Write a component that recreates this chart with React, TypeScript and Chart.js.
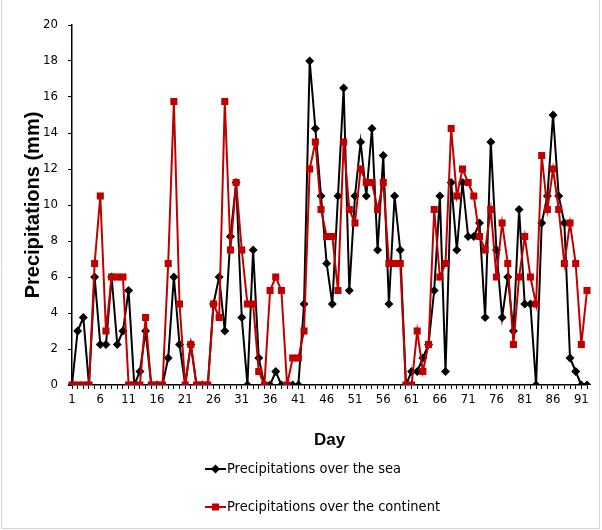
import React, { useEffect, useRef } from 'react';
import { Chart, registerables } from 'chart.js';

Chart.register(...registerables);

const days: string[] = Array.from({ length: 92 }, (_, i) => String(i + 1));

const seaValues: number[] = [
  0, 3, 3.75, 0, 6, 2.25, 2.25, 6, 2.25, 3,
  5.25, 0, 0.75, 3, 0, 0, 0, 1.5, 6, 2.25,
  0, 2.25, 0, 0, 0, 4.5, 6, 3, 8.25, 11.25,
  3.75, 0, 7.5, 1.5, 0, 0, 0.75, 0, 0, 0,
  0, 4.5, 18, 14.25, 10.5, 6.75, 4.5, 10.5, 16.5, 5.25,
  10.5, 13.5, 10.5, 14.25, 7.5, 12.75, 4.5, 10.5, 7.5, 0,
  0.75, 0.75, 1.5, 2.25, 5.25, 10.5, 0.75, 11.25, 7.5, 11.25,
  8.25, 8.25, 9, 3.75, 13.5, 7.5, 3.75, 6, 3, 9.75,
  4.5, 4.5, 0, 9, 10.5, 15, 10.5, 9, 1.5, 0.75,
  0, 0,
];

const continentValues: number[] = [
  0, 0, 0, 0, 6.75, 10.5, 3, 6, 6, 6,
  0, 0, 0, 3.75, 0, 0, 0, 6.75, 15.75, 4.5,
  0, 2.25, 0, 0, 0, 4.5, 3.75, 15.75, 7.5, 11.25,
  7.5, 4.5, 4.5, 0.75, 0, 5.25, 6, 5.25, 0, 1.5,
  1.5, 3, 12, 13.5, 9.75, 8.25, 8.25, 5.25, 13.5, 9.75,
  9, 12, 11.25, 11.25, 9.75, 11.25, 6.75, 6.75, 6.75, 0,
  0, 3, 0.75, 2.25, 9.75, 6, 6.75, 14.25, 10.5, 12,
  11.25, 10.5, 8.25, 7.5, 9.75, 6, 9, 6.75, 2.25, 6,
  8.25, 6, 4.5, 12.75, 9.75, 12, 9.75, 6.75, 9, 6.75,
  2.25, 5.25,
];

const seriesNames: string[] = ['Precipitations over the sea', 'Precipitations over the continent'];
const seriesColors: string[] = ['#000000', '#C00000'];
const yAxisTitle = 'Precipitations (mm)';
const xAxisTitle = 'Day';

const NARROW = '"DejaVu Sans Condensed", "Liberation Sans", sans-serif';
const SANS = '"Liberation Sans", Arial, sans-serif';

const legendPlugin = {
  id: 'customLegend',
  afterDraw(chart: any) {
    const ctx = chart.ctx as CanvasRenderingContext2D;
    ctx.save();
    // outer frame
    ctx.strokeStyle = '#d4d4d4';
    ctx.lineWidth = 1;
    ctx.beginPath();
    ctx.moveTo(1.5, 0);
    ctx.lineTo(1.5, 528.5);
    ctx.lineTo(599.5, 528.5);
    ctx.lineTo(599.5, 0);
    ctx.stroke();

    const rows = [469, 507];
    chart.data.datasets.forEach((ds: any, i: number) => {
      const y = rows[i];
      const x0 = 205;
      const x1 = 226;
      const cx = (x0 + x1) / 2;
      ctx.strokeStyle = ds.borderColor;
      ctx.fillStyle = ds.borderColor;
      ctx.lineWidth = 2;
      ctx.beginPath();
      ctx.moveTo(x0, y);
      ctx.lineTo(x1, y);
      ctx.stroke();
      ctx.beginPath();
      if (ds.pointStyle === 'rectRot') {
        const r = 4.5;
        ctx.moveTo(cx, y - r);
        ctx.lineTo(cx + r, y);
        ctx.lineTo(cx, y + r);
        ctx.lineTo(cx - r, y);
        ctx.closePath();
      } else {
        ctx.rect(cx - 3.5, y - 3.5, 7, 7);
      }
      ctx.fill();
      ctx.fillStyle = '#000';
      ctx.font = `14.5px ${NARROW}`;
      ctx.textBaseline = 'middle';
      ctx.textAlign = 'left';
      ctx.fillText(ds.label, x1 + 1, y);
    });
    ctx.restore();
  },
};

export default function App() {
  const canvasRef = useRef<HTMLCanvasElement | null>(null);

  useEffect(() => {
    const canvas = canvasRef.current;
    if (!canvas) return;
    const chart = new Chart(canvas, {
      type: 'line',
      data: {
        labels: days,
        datasets: [
          {
            label: seriesNames[0],
            data: seaValues,
            borderColor: seriesColors[0],
            backgroundColor: seriesColors[0],
            borderWidth: 2,
            pointStyle: 'rectRot',
            pointRadius: 4.5,
            pointBorderWidth: 0,
            tension: 0,
            order: 1,
          },
          {
            label: seriesNames[1],
            data: continentValues,
            borderColor: seriesColors[1],
            backgroundColor: seriesColors[1],
            borderWidth: 2,
            pointStyle: 'rect',
            pointRadius: 5,
            pointBorderWidth: 0,
            tension: 0,
            order: 0,
          },
        ],
      },
      options: {
        animation: false,
        responsive: false,
        maintainAspectRatio: false,
        layout: { padding: { top: 25, right: 15, left: 0, bottom: 79 } },
        plugins: {
          legend: { display: false },
          tooltip: { enabled: false },
        },
        scales: {
          x: {
            type: 'category',
            offset: false,
            grid: {
              display: true,
              drawOnChartArea: false,
              drawTicks: true,
              tickLength: 4,
              color: '#000',
              lineWidth: 1,
            },
            border: { display: true, color: '#000', width: 1.5 },
            ticks: {
              autoSkip: false,
              maxRotation: 0,
              minRotation: 0,
              padding: 3,
              color: '#000',
              font: { family: NARROW, size: 13 },
              callback: (_v: any, i: number) => (i % 5 === 0 ? days[i] : ''),
            },
            title: {
              display: true,
              text: xAxisTitle,
              color: '#000',
              font: { family: SANS, size: 17, weight: 'bold' },
              padding: 0,
            },
            afterFit: (s: any) => {
              s.height = 66;
            },
          },
          y: {
            min: 0,
            max: 20,
            grid: {
              display: true,
              drawOnChartArea: false,
              drawTicks: true,
              tickLength: 4,
              color: '#000',
            },
            border: { display: true, color: '#000', width: 1.5 },
            ticks: {
              stepSize: 2,
              padding: 10,
              color: '#000',
              font: { family: NARROW, size: 13 },
            },
            title: {
              display: true,
              text: yAxisTitle,
              color: '#000',
              font: { family: SANS, size: 20, weight: 'bold' },
              padding: { top: 21, bottom: 0 },
            },
            afterFit: (s: any) => {
              s.width = 72;
            },
          },
        },
      },
      plugins: [legendPlugin],
    } as any);
    return () => chart.destroy();
  }, []);

  return (
    <div style={{ position: 'absolute', left: 0, top: 0, width: 602, height: 530, background: '#fff' }}>
      <canvas ref={canvasRef} width={602} height={530} style={{ display: 'block' }} />
    </div>
  );
}
